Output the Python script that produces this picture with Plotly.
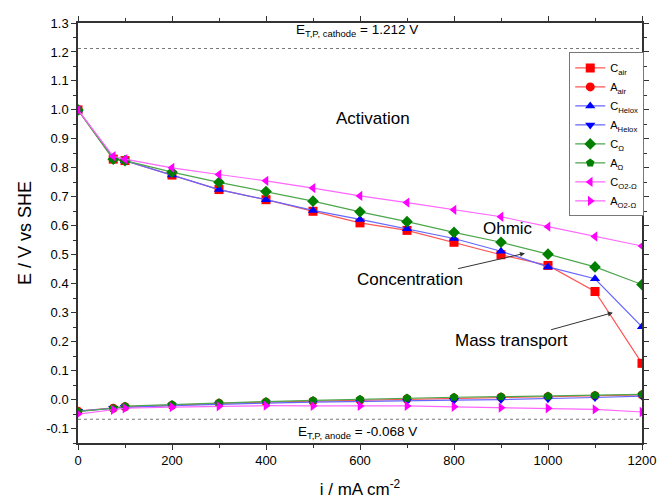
import plotly.graph_objects as go

current = [0, 75, 100, 200, 300, 400, 500, 600, 700, 800, 900, 1000, 1100, 1200]

c_air = [1.0, 0.83, 0.825, 0.775, 0.725, 0.69, 0.65, 0.61, 0.584, 0.543, 0.50, 0.463, 0.373, 0.125]
a_air = [-0.04, -0.03, -0.025, -0.02, -0.013, -0.009, -0.006, -0.002, 0.002, 0.005, 0.008, 0.010, 0.013, 0.016]
c_helox = [1.0, 0.835, 0.825, 0.775, 0.725, 0.69, 0.653, 0.622, 0.59, 0.556, 0.512, 0.458, 0.417, 0.251]
a_helox = [-0.04, -0.03, -0.027, -0.021, -0.016, -0.012, -0.009, -0.006, -0.004, -0.002, 0.0, 0.003, 0.007, 0.012]
c_ohm = [1.0, 0.83, 0.825, 0.785, 0.75, 0.718, 0.685, 0.648, 0.614, 0.577, 0.543, 0.502, 0.458, 0.397]
a_ohm = [-0.042, -0.03, -0.023, -0.017, -0.011, -0.007, -0.003, 0.001, 0.005, 0.008, 0.010, 0.012, 0.015, 0.018]
c_o2 = [1.0, 0.84, 0.83, 0.80, 0.777, 0.755, 0.73, 0.703, 0.68, 0.655, 0.631, 0.597, 0.563, 0.53]
a_o2 = [-0.05, -0.035, -0.03, -0.026, -0.023, -0.021, -0.022, -0.022, -0.022, -0.025, -0.028, -0.03, -0.034, -0.043]

series_names = ["C<sub>air</sub>", "A<sub>air</sub>", "C<sub>Helox</sub>", "A<sub>Helox</sub>",
                "C<sub>Ω</sub>", "A<sub>Ω</sub>", "C<sub>O2-Ω</sub>", "A<sub>O2-Ω</sub>"]
series_values = [c_air, a_air, c_helox, a_helox, c_ohm, a_ohm, c_o2, a_o2]
marker_symbols = ["square", "circle", "triangle-up", "triangle-down",
                  "diamond", "pentagon", "triangle-left", "triangle-right"]
marker_colors = ["#FF0000", "#FF0000", "#0000FF", "#0000FF", "#007F00", "#007F00", "#FF00FF", "#FF00FF"]
line_colors = ["#FF5555", "#FF5555", "#6666FF", "#6666FF", "#4CA64C", "#4CA64C", "#FF66FF", "#FF66FF"]

y_tick_values = [-0.1, 0.0, 0.1, 0.2, 0.3, 0.4, 0.5, 0.6, 0.7, 0.8, 0.9, 1.0, 1.1, 1.2, 1.3]
y_tick_labels = ["-0.1", "0.0", "0.1", "0.2", "0.3", "0.4", "0.5", "0.6", "0.7", "0.8", "0.9", "1.0", "1.1", "1.2", "1.3"]

e_cathode = 1.212
e_anode = -0.068

fig = go.Figure()
for name, vals, sym, mc, lc in zip(series_names, series_values, marker_symbols, marker_colors, line_colors):
    fig.add_trace(go.Scatter(
        x=current, y=vals, name=name, mode="lines+markers",
        line=dict(color=lc, width=1.2),
        marker=dict(symbol=sym, color=mc, size=9, line=dict(width=0)),
    ))

for yv in (e_cathode, e_anode):
    fig.add_shape(type="line", xref="paper", x0=0, x1=1, yref="y", y0=yv, y1=yv,
                  line=dict(color="#777777", width=1, dash="dot"))

font = "Liberation Sans, Arial, sans-serif"
ann_font = dict(family=font, size=17, color="black")
fig.add_annotation(x=594, y=1.275, text="E<sub>T,P, cathode</sub> = 1.212 V", showarrow=False, font=dict(family=font, size=13.5))
fig.add_annotation(x=594, y=-0.115, text="E<sub>T,P, anode</sub> = -0.068 V", showarrow=False, font=dict(family=font, size=13.5))
fig.add_annotation(x=628, y=0.97, text="Activation", showarrow=False, font=ann_font)
fig.add_annotation(x=915, y=0.59, text="Ohmic", showarrow=False, font=ann_font)
fig.add_annotation(x=951, y=0.505, ax=707, ay=0.414, axref="x", ayref="y",
                   text="Concentration", showarrow=True, arrowhead=2, arrowsize=1,
                   arrowwidth=1, arrowcolor="#333333", font=ann_font)
fig.add_annotation(x=1138, y=0.30, ax=922, ay=0.203, axref="x", ayref="y",
                   text="Mass transport", showarrow=True, arrowhead=2, arrowsize=1,
                   arrowwidth=1, arrowcolor="#333333", font=ann_font)

axis_common = dict(showline=True, linecolor="#333333", linewidth=1.5, mirror="ticks",
                   ticks="outside", ticklen=5, tickwidth=1.2, tickcolor="#333333",
                   showgrid=False, zeroline=False,
                   tickfont=dict(family=font, size=13, color="black"))

fig.update_xaxes(range=[0, 1200], dtick=200, tick0=0,
                 minor=dict(dtick=100, ticks="outside", ticklen=3, tickcolor="#333333"),
                 title=dict(text="i / mA cm<sup>-2</sup>", font=dict(family=font, size=17), standoff=16),
                 **axis_common)
fig.update_yaxes(range=[-0.15, 1.3], tickmode="array", tickvals=y_tick_values, ticktext=y_tick_labels,
                 minor=dict(dtick=0.05, tick0=0, ticks="outside", ticklen=3, tickcolor="#333333"),
                 title=dict(text="E / V vs SHE", font=dict(family=font, size=18), standoff=10),
                 **axis_common)

fig.update_layout(
    width=672, height=500,
    margin=dict(l=70, r=38, t=8, b=65),
    plot_bgcolor="white", paper_bgcolor="white",
    font=dict(family=font, color="black"),
    legend=dict(x=0.871, y=0.93, xanchor="left", yanchor="top",
                bordercolor="#777777", borderwidth=1, bgcolor="white",
                font=dict(family=font, size=11), tracegroupgap=0, itemwidth=30),
)

fig.write_html("out.html")
